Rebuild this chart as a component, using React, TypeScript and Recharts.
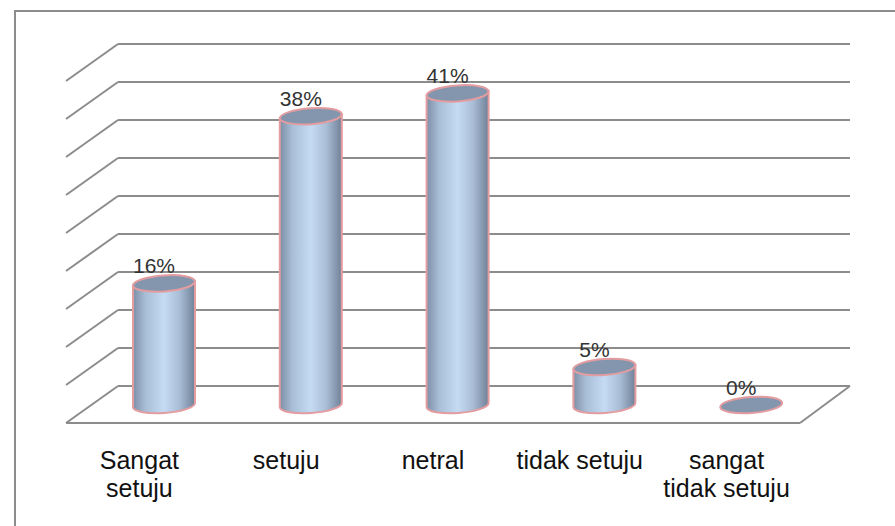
import { Bar, BarChart, CartesianGrid, LabelList, XAxis, YAxis } from "recharts";

const categories = ["Sangat setuju", "setuju", "netral", "tidak setuju", "sangat tidak setuju"];
const percentages = [16, 38, 41, 5, 0];
const yTicks = [0, 5, 10, 15, 20, 25, 30, 35, 40, 45];
const tickLines: Record<string, string[]> = {
  "Sangat setuju": ["Sangat", "setuju"],
  setuju: ["setuju"],
  netral: ["netral"],
  "tidak setuju": ["tidak setuju"],
  "sangat tidak setuju": ["sangat", "tidak setuju"],
};

const rows = categories.map((name, i) => ({ name, value: percentages[i] }));

const GRID = "#8c8c8c";
const EDGE = "#e39c9f";
const DEPTH = 19; // bars stand in the middle of the floor, grid is on the back wall
const RX = 31;
const RY = 8;
const TILT = -4;

function WallLine(props: any) {
  const { y1, x1, x2 } = props;
  return (
    <g>
      <line x1={x1 + 27} y1={y1} x2={x2 + 25} y2={y1} stroke={GRID} strokeWidth={2} />
      <line x1={x1 - 25} y1={y1 + 37} x2={x1 + 27} y2={y1} stroke={GRID} strokeWidth={2} />
      {y1 > 380 && (
        <g>
          <line x1={x1 - 25} y1={y1 + 37} x2={x2 - 25} y2={y1 + 37} stroke={GRID} strokeWidth={2} />
          <line x1={x2 - 25} y1={y1 + 37} x2={x2 + 25} y2={y1} stroke={GRID} strokeWidth={2} />
        </g>
      )}
    </g>
  );
}

function Cylinder(props: any) {
  const { x, y, width, height } = props;
  const cx = x + width / 2;
  const top = y + DEPTH;
  const bottom = top + height;
  const left = cx - RX;
  const right = cx + RX;
  const dy = RX * Math.sin((-TILT * Math.PI) / 180);
  const body =
    `M${left},${top + dy} L${left},${bottom + dy} ` +
    `A${RX},${RY} ${TILT} 0 0 ${right},${bottom - dy} ` +
    `L${right},${top - dy} Z`;
  return (
    <g>
      {height > 0 && <path d={body} fill="url(#cyl)" stroke={EDGE} strokeWidth={2} />}
      <ellipse
        cx={cx}
        cy={top}
        rx={RX}
        ry={RY}
        transform={`rotate(${TILT} ${cx} ${top})`}
        fill="#8496ae"
        stroke={EDGE}
        strokeWidth={2}
      />
    </g>
  );
}

function CategoryTick(props: any) {
  const { x, payload } = props;
  const lines = tickLines[payload.value] ?? [payload.value];
  return (
    <text x={x - 25} y={469} textAnchor="middle" fontSize={25} fill="#111">
      {lines.map((line: string, i: number) => (
        <tspan key={line} x={x - 25} dy={i === 0 ? 0 : 28}>
          {line}
        </tspan>
      ))}
    </text>
  );
}

function PercentLabel(props: any) {
  const { x, y, width, value } = props;
  return (
    <text x={x + width / 2 - 10} y={y + DEPTH - 10} textAnchor="middle" fontSize={21} fill="#333">
      {value}%
    </text>
  );
}

export default function App() {
  return (
    <div
      style={{
        position: "absolute",
        left: 0,
        top: 0,
        width: 895,
        height: 526,
        overflow: "hidden",
        background: "#fff",
        fontFamily: "'Liberation Sans', Arial, sans-serif",
      }}
    >
      <div style={{ position: "absolute", left: 14, top: 10, width: 881, height: 516, borderTop: "2px solid #8c8c8c", borderLeft: "2px solid #8c8c8c" }} />
      <div style={{ position: "absolute", left: 0, top: 0 }}>
        <BarChart
          width={895}
          height={526}
          data={rows}
          margin={{ top: 44, right: 70, bottom: 110, left: 91 }}
        >
          <defs>
            <linearGradient id="cyl" x1="0" y1="0" x2="1" y2="0">
              <stop offset="0" stopColor="#7d8fa6" />
              <stop offset="0.2" stopColor="#a8bdd6" />
              <stop offset="0.5" stopColor="#c5daf3" />
              <stop offset="0.75" stopColor="#a9bdd6" />
              <stop offset="1" stopColor="#6f8197" />
            </linearGradient>
          </defs>
          <CartesianGrid vertical={false} horizontal={<WallLine />} />
          <XAxis
            dataKey="name"
            axisLine={false}
            tickLine={false}
            interval={0}
            tick={<CategoryTick />}
            height={30}
          />
          <YAxis hide domain={[0, 45]} ticks={yTicks} />
          <Bar dataKey="value" barSize={62} shape={<Cylinder />} isAnimationActive={false}>
            <LabelList dataKey="value" content={<PercentLabel />} />
          </Bar>
        </BarChart>
      </div>
    </div>
  );
}
